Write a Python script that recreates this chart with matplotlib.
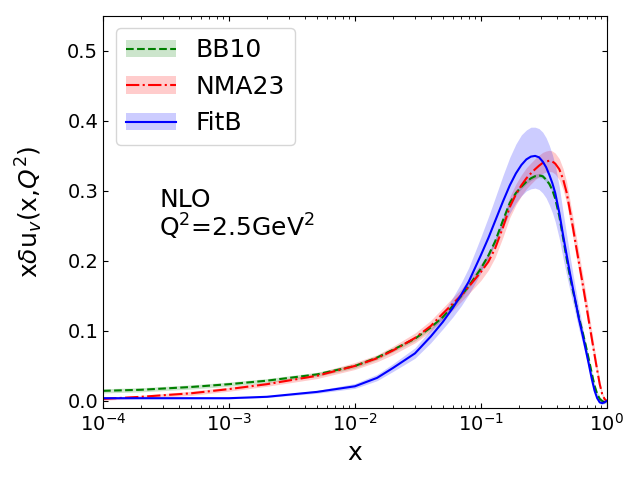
import numpy as np
import matplotlib
matplotlib.use("Agg")
import matplotlib.pyplot as plt
from matplotlib.patches import Patch

x = [1e-4, 2e-4, 5e-4, 1e-3, 2e-3, 5e-3, 1e-2, 0.015, 0.02, 0.03, 0.04,
     0.05, 0.06, 0.07, 0.08, 0.09, 0.1, 0.115, 0.13, 0.15, 0.17, 0.19, 0.21,
     0.23, 0.25, 0.27, 0.29, 0.31, 0.33, 0.35, 0.37, 0.39, 0.42, 0.45, 0.48,
     0.51, 0.54, 0.57, 0.6, 0.64, 0.68, 0.72, 0.76, 0.8, 0.84, 0.88, 0.92,
     0.96, 1.0]

bb10 = [0.0145, 0.016, 0.020, 0.024, 0.029, 0.038, 0.050, 0.062, 0.073, 0.089, 0.105,
        0.120, 0.136, 0.150, 0.164, 0.177, 0.189, 0.208, 0.228, 0.258, 0.283, 0.297, 0.306,
        0.313, 0.318, 0.321, 0.322, 0.321, 0.316, 0.310, 0.301, 0.289, 0.264, 0.233, 0.204,
        0.178, 0.157, 0.138, 0.120, 0.100, 0.080, 0.060, 0.040, 0.022, 0.010, 0.003, 0.000,
        -0.001, 0.000]

nma23 = [0.003, 0.006, 0.011, 0.017, 0.024, 0.036, 0.050, 0.061, 0.072, 0.090, 0.107,
         0.125, 0.139, 0.151, 0.163, 0.174, 0.184, 0.199, 0.218, 0.248, 0.277, 0.295, 0.308,
         0.318, 0.325, 0.331, 0.336, 0.340, 0.342, 0.343, 0.342, 0.339, 0.331, 0.317, 0.298,
         0.272, 0.247, 0.222, 0.199, 0.170, 0.142, 0.115, 0.090, 0.066, 0.044, 0.024, 0.010,
         0.003, 0.000]

nma23_err = [0.002, 0.002, 0.003, 0.003, 0.003, 0.004, 0.005, 0.005, 0.006, 0.007, 0.008,
             0.008, 0.009, 0.009, 0.010, 0.011, 0.012, 0.012, 0.013, 0.014, 0.015, 0.015, 0.015,
             0.015, 0.015, 0.015, 0.015, 0.015, 0.015, 0.015, 0.015, 0.015, 0.015, 0.015, 0.015,
             0.015, 0.015, 0.015, 0.014, 0.014, 0.013, 0.012, 0.011, 0.009, 0.007, 0.005, 0.003,
             0.002, 0.001]

fitb = [0.004, 0.004, 0.004, 0.004, 0.006, 0.013, 0.021, 0.033, 0.047, 0.068, 0.092,
        0.113, 0.133, 0.152, 0.170, 0.190, 0.208, 0.233, 0.257, 0.285, 0.308, 0.325, 0.337,
        0.345, 0.349, 0.350, 0.348, 0.342, 0.334, 0.323, 0.311, 0.297, 0.269, 0.237, 0.209,
        0.183, 0.160, 0.139, 0.118, 0.096, 0.074, 0.053, 0.032, 0.015, 0.004, -0.002, -0.003,
        -0.002, 0.000]
fitb_lo = [0.003, 0.003, 0.003, 0.003, 0.005, 0.011, 0.018, 0.029, 0.042, 0.061, 0.083,
           0.103, 0.120, 0.136, 0.152, 0.168, 0.183, 0.204, 0.224, 0.248, 0.268, 0.283, 0.293,
           0.300, 0.303, 0.304, 0.302, 0.297, 0.290, 0.280, 0.269, 0.256, 0.232, 0.204, 0.180,
           0.158, 0.139, 0.121, 0.103, 0.084, 0.065, 0.046, 0.028, 0.012, 0.002, -0.004, -0.005,
           -0.003, 0.000]
fitb_hi = [0.005, 0.005, 0.005, 0.005, 0.007, 0.015, 0.025, 0.038, 0.053, 0.076, 0.102,
           0.125, 0.148, 0.169, 0.190, 0.213, 0.234, 0.263, 0.290, 0.322, 0.348, 0.367, 0.380,
           0.387, 0.391, 0.391, 0.389, 0.384, 0.376, 0.365, 0.352, 0.337, 0.306, 0.270, 0.238,
           0.208, 0.181, 0.157, 0.134, 0.108, 0.083, 0.060, 0.037, 0.018, 0.006, 0.000, -0.001,
           -0.001, 0.000]

bb10_lo = [v - 0.003 for v in bb10]
bb10_hi = [v + 0.003 for v in bb10]
nma_lo = [v - e for v, e in zip(nma23, nma23_err)]
nma_hi = [v + e for v, e in zip(nma23, nma23_err)]

fig, ax = plt.subplots(figsize=(6.4, 4.8), dpi=100)
fig.subplots_adjust(left=0.161, right=0.948, bottom=0.15, top=0.967)

ax.fill_between(x, bb10_lo, bb10_hi, color='green', alpha=0.2, lw=0)
ax.fill_between(x, nma_lo, nma_hi, color='red', alpha=0.2, lw=0)
ax.fill_between(x, fitb_lo, fitb_hi, color='blue', alpha=0.2, lw=0)
l1, = ax.plot(x, bb10, color='green', ls='--', lw=1.5)
l2, = ax.plot(x, nma23, color='red', ls='-.', lw=1.5)
l3, = ax.plot(x, fitb, color='blue', ls='-', lw=1.5)

p1 = Patch(facecolor='green', alpha=0.2, lw=0)
p2 = Patch(facecolor='red', alpha=0.2, lw=0)
p3 = Patch(facecolor='blue', alpha=0.2, lw=0)
ax.legend([(p1, l1), (p2, l2), (p3, l3)], ['BB10', 'NMA23', 'FitB'],
          loc='upper left', fontsize=18)

ax.set_xscale('log')
ax.set_xlim(1e-4, 1)
ax.set_ylim(-0.01, 0.55)
ax.set_yticks([0.0, 0.1, 0.2, 0.3, 0.4, 0.5])
ax.tick_params(which='both', direction='in', top=True, right=True, labelsize=14)
ax.set_xlabel('x', fontsize=18)
ax.set_ylabel(r'x$\delta$u$_v$(x,$Q^2$)', fontsize=18)
ax.yaxis.set_label_coords(-0.115, 0.5)
ax.xaxis.set_label_coords(0.5, -0.085)
ax.text(2.8e-4, 0.235, 'NLO\nQ$^2$=2.5GeV$^2$', fontsize=18, linespacing=1.0)

fig.savefig('out.png', dpi=100)
